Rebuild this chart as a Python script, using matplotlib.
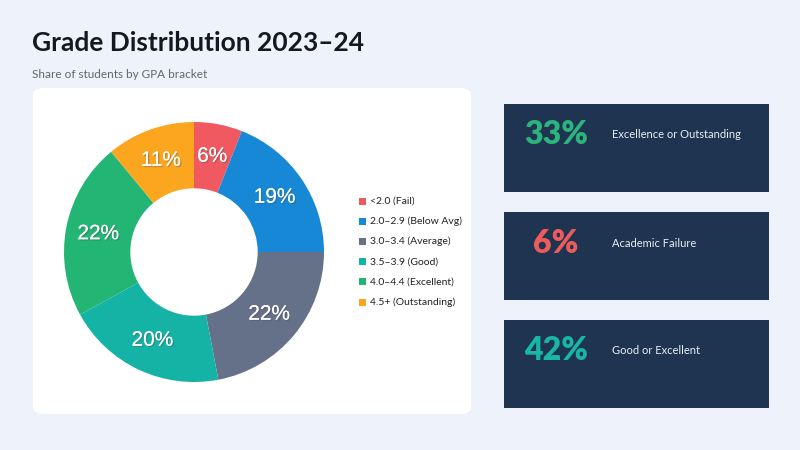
import matplotlib.pyplot as plt
import matplotlib.patheffects as pe
from matplotlib.patches import FancyBboxPatch, Rectangle

# data
brackets = ['<2.0 (Fail)', '2.0\u20132.9 (Below Avg)', '3.0\u20133.4 (Average)',
            '3.5\u20133.9 (Good)', '4.0\u20134.4 (Excellent)', '4.5+ (Outstanding)']
shares = [6, 19, 22, 20, 22, 11]
colors = ['#F0595F', '#1688D6', '#657089', '#14B3A6', '#22B574', '#FBA61E']

card_values = ['33%', '6%', '42%']
card_labels = ['Excellence or Outstanding', 'Academic Failure', 'Good or Excellent']
card_colors = ['#2BB57C', '#EE5B5B', '#19B5A6']

W, H = 800, 450
fig = plt.figure(figsize=(8, 4.5), dpi=100)
fig.patch.set_facecolor('#EEF2FA')

def fx(x):
    return x / W

def fy(y):
    return 1 - y / H

fig.text(fx(32), fy(43), 'Grade Distribution 2023\u201324', fontsize=19, fontweight='bold',
         family='Lato', color='#151822', va='center', ha='left')
fig.text(fx(32), fy(75), 'Share of students by GPA bracket', fontsize=8.5, family='Lato',
         color='#60666F', va='center', ha='left')

# white panel
panel = FancyBboxPatch((fx(33), fy(414)), fx(471) - fx(33), fy(88) - fy(414),
                       boxstyle='round,pad=0,rounding_size=0.015', transform=fig.transFigure,
                       facecolor='white', edgecolor='none', zorder=-5)
fig.patches.append(panel)

# donut
cx, cy, r = 194, 252, 130
ax = fig.add_axes([fx(cx - r), fy(cy + r), 2 * r / W, 2 * r / H], zorder=2)
ax.patch.set_alpha(0)
wedges, _, autotexts = ax.pie(shares, colors=colors, startangle=90, counterclock=False,
                              radius=1, autopct='%d%%', pctdistance=0.75,
                              wedgeprops=dict(width=0.51, edgecolor='none'))
for t in autotexts:
    t.set_color('white')
    t.set_fontsize(15)
    t.set_family('Liberation Sans')
    t.set_path_effects([pe.withSimplePatchShadow(offset=(1, -1), alpha=0.35), pe.Normal()])
ax.set_xlim(-1, 1)
ax.set_ylim(-1, 1)
ax.set_aspect('equal')
ax.axis('off')

# legend
for i, (lab, col) in enumerate(zip(brackets, colors)):
    y = 201 + i * 20.2
    fig.patches.append(Rectangle((fx(359), fy(y + 3.5)), 7 / W, 7 / H, transform=fig.transFigure,
                                 facecolor=col, edgecolor='none'))
    fig.text(fx(370), fy(y), lab, fontsize=7.5, family='Lato', color='#222222',
             va='center', ha='left')

# cards
card_tops = [104, 212, 320]
for top, val, lab, col in zip(card_tops, card_values, card_labels, card_colors):
    fig.patches.append(Rectangle((fx(504), fy(top + 88)), 265 / W, 88 / H,
                                 transform=fig.transFigure, facecolor='#1F3450',
                                 edgecolor='none'))
    fig.text(fx(556), fy(top + 31), val, fontsize=23, fontweight='heavy', family='Lato',
             color=col, va='center', ha='center')
    fig.text(fx(612), fy(top + 31), lab, fontsize=8, family='Lato', color='#E8EEF6',
             va='center', ha='left')

fig.savefig('out.png', dpi=100, facecolor=fig.get_facecolor())
